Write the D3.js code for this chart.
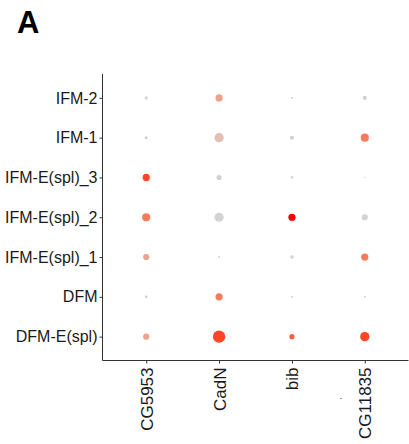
<!DOCTYPE html>
<html><head><meta charset="utf-8">
<script src="https://cdn.jsdelivr.net/npm/d3@7"></script>
<style>body{margin:0;background:#fff}svg{display:block}</style>
</head><body><div id="chart"></div>
<script>
const genes = ["CG5953","CadN","bib","CG11835"];
const clusters = ["IFM-2","IFM-1","IFM-E(spl)_3","IFM-E(spl)_2","IFM-E(spl)_1","DFM","DFM-E(spl)"];
// percent expressed (size), rows follow clusters, one array per gene
const pctCG5953  = [4, 4, 22, 28, 16, 3, 16];
const pctCadN    = [22, 36, 11, 36, 1.8, 22, 64];
const pctBib     = [1.8, 7, 3, 22, 5, 1.8, 11];
const pctCG11835 = [7, 28, 0.9, 16, 22, 1.8, 36];
// scaled average expression (colour), 0 = lightgrey, 1 = red
const expCG5953  = [0.03, 0.03, 0.85, 0.6, 0.35, 0.03, 0.35];
const expCadN    = [0.35, 0.15, 0.02, 0.0, 0.0, 0.6, 0.85];
const expBib     = [0.0, 0.03, 0.0, 1.0, 0.03, 0.0, 0.75];
const expCG11835 = [0.03, 0.6, 0.0, 0.0, 0.6, 0.0, 0.85];

const pctAll = [pctCG5953, pctCadN, pctBib, pctCG11835];
const expAll = [expCG5953, expCadN, expBib, expCG11835];
const data = [];
genes.forEach((g, gi) => clusters.forEach((c, ci) => data.push({gene: g, cluster: c, pct: pctAll[gi][ci], exp: expAll[gi][ci]})));

const W = 409, H = 444;
const svg = d3.select("#chart").append("svg").attr("width", W).attr("height", H);
const pL = 102.5, pR = 408.5, pT = 74, pB = 360.5;

const x = d3.scalePoint().domain(genes).range([pL, pR]).padding(0.6);
const y = d3.scalePoint().domain(clusters).range([pT, pB]).padding(0.6);
const r = d3.scaleSqrt().domain([0, 100]).range([0, 7.7]);
const col = d3.scaleLinear().domain([0, 1]).range(["#d3d3d3", "#ff0000"]).interpolate(d3.interpolateLab);

svg.append("text").attr("x", 17).attr("y", 33).text("A")
  .attr("font-family", "Liberation Sans, Arial, sans-serif").attr("font-weight", "bold").attr("font-size", 31);

svg.append("g").selectAll("circle").data(data).join("circle")
  .attr("cx", d => x(d.gene)).attr("cy", d => y(d.cluster))
  .attr("r", d => r(d.pct)).attr("fill", d => col(d.exp));

const yAxis = svg.append("g").attr("transform", `translate(${pL},0)`)
  .call(d3.axisLeft(y).tickSize(3).tickSizeOuter(0));
yAxis.select(".domain").attr("d", `M0,${pT}V${pB}`);
yAxis.selectAll("text").attr("font-size", 16).attr("x", -5).attr("fill", "#1a1a1a");

const xAxis = svg.append("g").attr("transform", `translate(0,${pB})`)
  .call(d3.axisBottom(x).tickSize(3).tickSizeOuter(0));
xAxis.select(".domain").attr("d", `M${pL},0H${pR}`);
xAxis.selectAll("text").attr("font-size", 17).attr("fill", "#1a1a1a")
  .attr("transform", "rotate(-90)").attr("text-anchor", "end")
  .attr("x", -7).attr("y", 0).attr("dy", "0.35em");

[yAxis, xAxis].forEach(a => {
  a.attr("font-family", "Liberation Sans, Arial, sans-serif");
  a.selectAll(".domain, line").attr("stroke", "#333").attr("stroke-width", 1);
});

svg.append("line").attr("x1", 340).attr("x2", 342).attr("y1", 398.5).attr("y2", 398.5)
  .attr("stroke", "#999").attr("stroke-width", 1);
</script></body></html>
